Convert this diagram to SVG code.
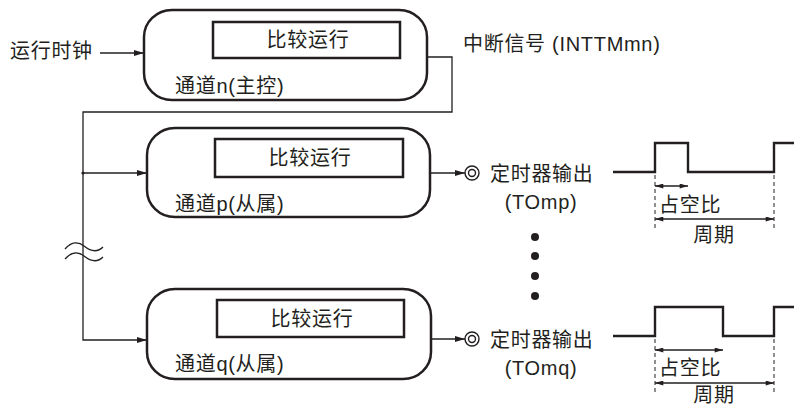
<svg xmlns="http://www.w3.org/2000/svg" width="794" height="405" viewBox="0 0 794 405">
<style>
text{font-family:"Liberation Sans","Noto Sans CJK SC",sans-serif;font-size:20px;letter-spacing:0.7px;fill:#231f20}
.node{fill:#fff;stroke:#231f20;stroke-width:2.5}
.inner{fill:#fff;stroke:#231f20;stroke-width:2.5}
.line{fill:none;stroke:#231f20;stroke-width:1.3}
.wave{fill:none;stroke:#231f20;stroke-width:2.4}
.dash{fill:none;stroke:#231f20;stroke-width:1;stroke-dasharray:4 3}
.ring{fill:none;stroke:#231f20;stroke-width:1.4}
.mid{text-anchor:middle}
</style>
<defs>
<marker id="ah" viewBox="0 0 10 6" refX="10" refY="3" markerWidth="10" markerHeight="6" markerUnits="userSpaceOnUse" orient="auto-start-reverse">
<path d="M0,0 L10,3 L0,6 Z" fill="#231f20"/>
</marker>
<marker id="sa" viewBox="0 0 10 6" refX="10" refY="3" markerWidth="9" markerHeight="5" markerUnits="userSpaceOnUse" orient="auto-start-reverse">
<path d="M0,0 L10,3 L0,6 Z" fill="#231f20"/>
</marker>
</defs>

<text x="10" y="58">运行时钟</text>
<text x="463" y="51">中断信号 (INTTMmn)</text>

<g id="connectors">
<line class="line" x1="100" y1="53" x2="144" y2="53" marker-end="url(#ah)"/>
<path class="line" d="M427,57 H452 V112 H83 V340 H147" marker-end="url(#ah)"/>
<line class="line" x1="83" y1="173" x2="147" y2="173" marker-end="url(#ah)"/>
<circle cx="83" cy="173" r="1.6" fill="#231f20"/>
<path class="line" d="M65,249 C72,241 79,242 84,246 S96,254 103,247"/>
<path class="line" d="M65,259 C72,251 79,252 84,256 S96,264 103,257"/>
<line class="line" x1="430" y1="173" x2="465" y2="173" marker-end="url(#ah)"/>
<line class="line" x1="431" y1="339" x2="465" y2="339" marker-end="url(#ah)"/>
</g>

<g id="node-n">
<rect class="node" x="144" y="10" width="283" height="90" rx="28" ry="27"/>
<rect class="inner" x="213" y="22" width="187" height="36"/>
<text class="mid" x="308" y="47">比较运行</text>
<text x="175" y="93">通道n(主控)</text>
</g>

<g id="node-p">
<rect class="node" x="147" y="128" width="283" height="89" rx="28" ry="27"/>
<rect class="inner" x="215" y="139" width="188" height="38"/>
<text class="mid" x="310" y="165">比较运行</text>
<text x="175" y="211">通道p(从属)</text>
</g>

<g id="node-q">
<rect class="node" x="147" y="289" width="284" height="90" rx="28" ry="27"/>
<rect class="inner" x="217" y="300" width="187" height="37"/>
<text class="mid" x="312" y="326">比较运行</text>
<text x="175" y="371">通道q(从属)</text>
</g>

<g id="output-p">
<circle class="ring" cx="472" cy="173" r="7"/>
<circle class="ring" cx="472" cy="173" r="3.5"/>
<text x="490" y="181">定时器输出</text>
<text class="mid" x="541" y="209">(TOmp)</text>
</g>

<g id="output-q">
<circle class="ring" cx="472" cy="339" r="7"/>
<circle class="ring" cx="472" cy="339" r="3.5"/>
<text x="490" y="347">定时器输出</text>
<text class="mid" x="541" y="375">(TOmq)</text>
</g>

<g id="dots" fill="#231f20">
<circle cx="535" cy="237" r="4"/>
<circle cx="535" cy="256" r="4"/>
<circle cx="535" cy="276" r="4"/>
<circle cx="535" cy="296" r="4"/>
</g>

<g id="waveform-p">
<path class="wave" d="M613,172 H655 V143 H688 V172 H774 V143 H794"/>
<line class="dash" x1="655" y1="175" x2="655" y2="228"/>
<line class="dash" x1="774" y1="175" x2="774" y2="228"/>
<line class="line" x1="655" y1="186" x2="688" y2="186" marker-start="url(#sa)" marker-end="url(#sa)"/>
<line class="line" x1="655" y1="219" x2="774" y2="219" marker-start="url(#sa)" marker-end="url(#sa)"/>
<text x="659" y="212">占空比</text>
<text class="mid" x="714" y="242">周期</text>
</g>

<g id="waveform-q">
<path class="wave" d="M613,336 H655 V307 H723 V336 H774 V307 H794"/>
<line class="dash" x1="655" y1="339" x2="655" y2="394"/>
<line class="dash" x1="774" y1="339" x2="774" y2="394"/>
<line class="line" x1="655" y1="350" x2="723" y2="350" marker-start="url(#sa)" marker-end="url(#sa)"/>
<line class="line" x1="655" y1="383" x2="774" y2="383" marker-start="url(#sa)" marker-end="url(#sa)"/>
<text x="659" y="375">占空比</text>
<text class="mid" x="714" y="402">周期</text>
</g>
</svg>
